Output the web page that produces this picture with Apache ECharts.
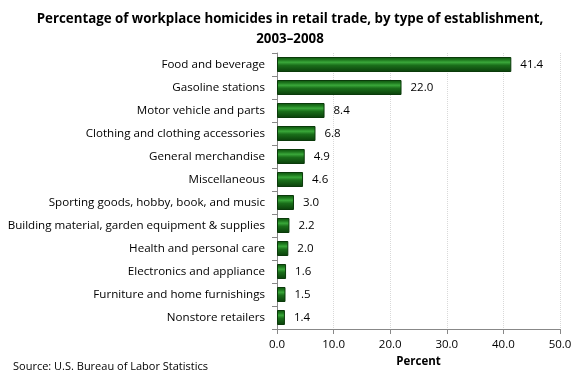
<!DOCTYPE html>
<html><head><meta charset="utf-8">
<script src="https://cdn.jsdelivr.net/npm/echarts@6/dist/echarts.min.js"></script>
<style>html,body{margin:0;padding:0;background:#fff}#c{width:580px;height:383px}</style>
</head><body><div id="c"></div>
<script>
const categories = ["Food and beverage","Gasoline stations","Motor vehicle and parts","Clothing and clothing accessories","General merchandise","Miscellaneous","Sporting goods, hobby, book, and music","Building material, garden equipment & supplies","Health and personal care","Electronics and appliance","Furniture and home furnishings","Nonstore retailers"];
const values = [41.4,22.0,8.4,6.8,4.9,4.6,3.0,2.2,2.0,1.6,1.5,1.4];
const xTicks = {min:0,max:50,interval:10};
const FONT = "Open Sans";
const chart = echarts.init(document.getElementById('c'));
chart.setOption({
  animation:false,
  textStyle:{fontFamily:FONT},
  title:{text:"Percentage of workplace homicides in retail trade, by type of establishment,\n2003\u20132008",left:'center',top:4,
    textStyle:{fontFamily:FONT,fontSize:13.3,fontWeight:'bold',color:'#000',lineHeight:20}},
  graphic:[{type:'text',left:13,top:361,style:{text:"Source: U.S. Bureau of Labor Statistics",font:'11px "Open Sans"',fill:'#000'}}],
  grid:{left:277,right:20,top:53,bottom:54,containLabel:false},
  xAxis:{type:'value',min:xTicks.min,max:xTicks.max,interval:xTicks.interval,
    name:'Percent',nameLocation:'middle',nameGap:27,nameTextStyle:{fontFamily:FONT,fontSize:11.5,fontWeight:'bold',color:'#000'},
    axisLine:{show:true,lineStyle:{color:'#888'}},axisTick:{show:true,length:5,lineStyle:{color:'#888'}},
    axisLabel:{formatter:v=>v.toFixed(1),fontSize:11.5,color:'#000',margin:10},
    splitLine:{show:true,lineStyle:{color:'#d9d9d9',type:'dotted'}}},
  yAxis:{type:'category',data:categories,inverse:true,
    axisLine:{show:true,lineStyle:{color:'#888'}},axisTick:{show:true,length:5,lineStyle:{color:'#888'}},
    axisLabel:{fontSize:11.6,color:'#000',margin:12}},
  series:[{type:'bar',data:values,barWidth:15,
    itemStyle:{color:new echarts.graphic.LinearGradient(0,0,0,1,[
      {offset:0,color:'#0b4f0b'},{offset:0.2,color:'#1f7a1f'},{offset:0.35,color:'#3aa83a'},{offset:0.55,color:'#1a6f1a'},{offset:1,color:'#0a3d0a'}]),
      borderColor:'#0a3a0a',borderWidth:1},
    label:{show:true,position:'right',distance:9,formatter:p=>p.value.toFixed(1),fontSize:11.5,color:'#000'}}]
});
</script></body></html>
